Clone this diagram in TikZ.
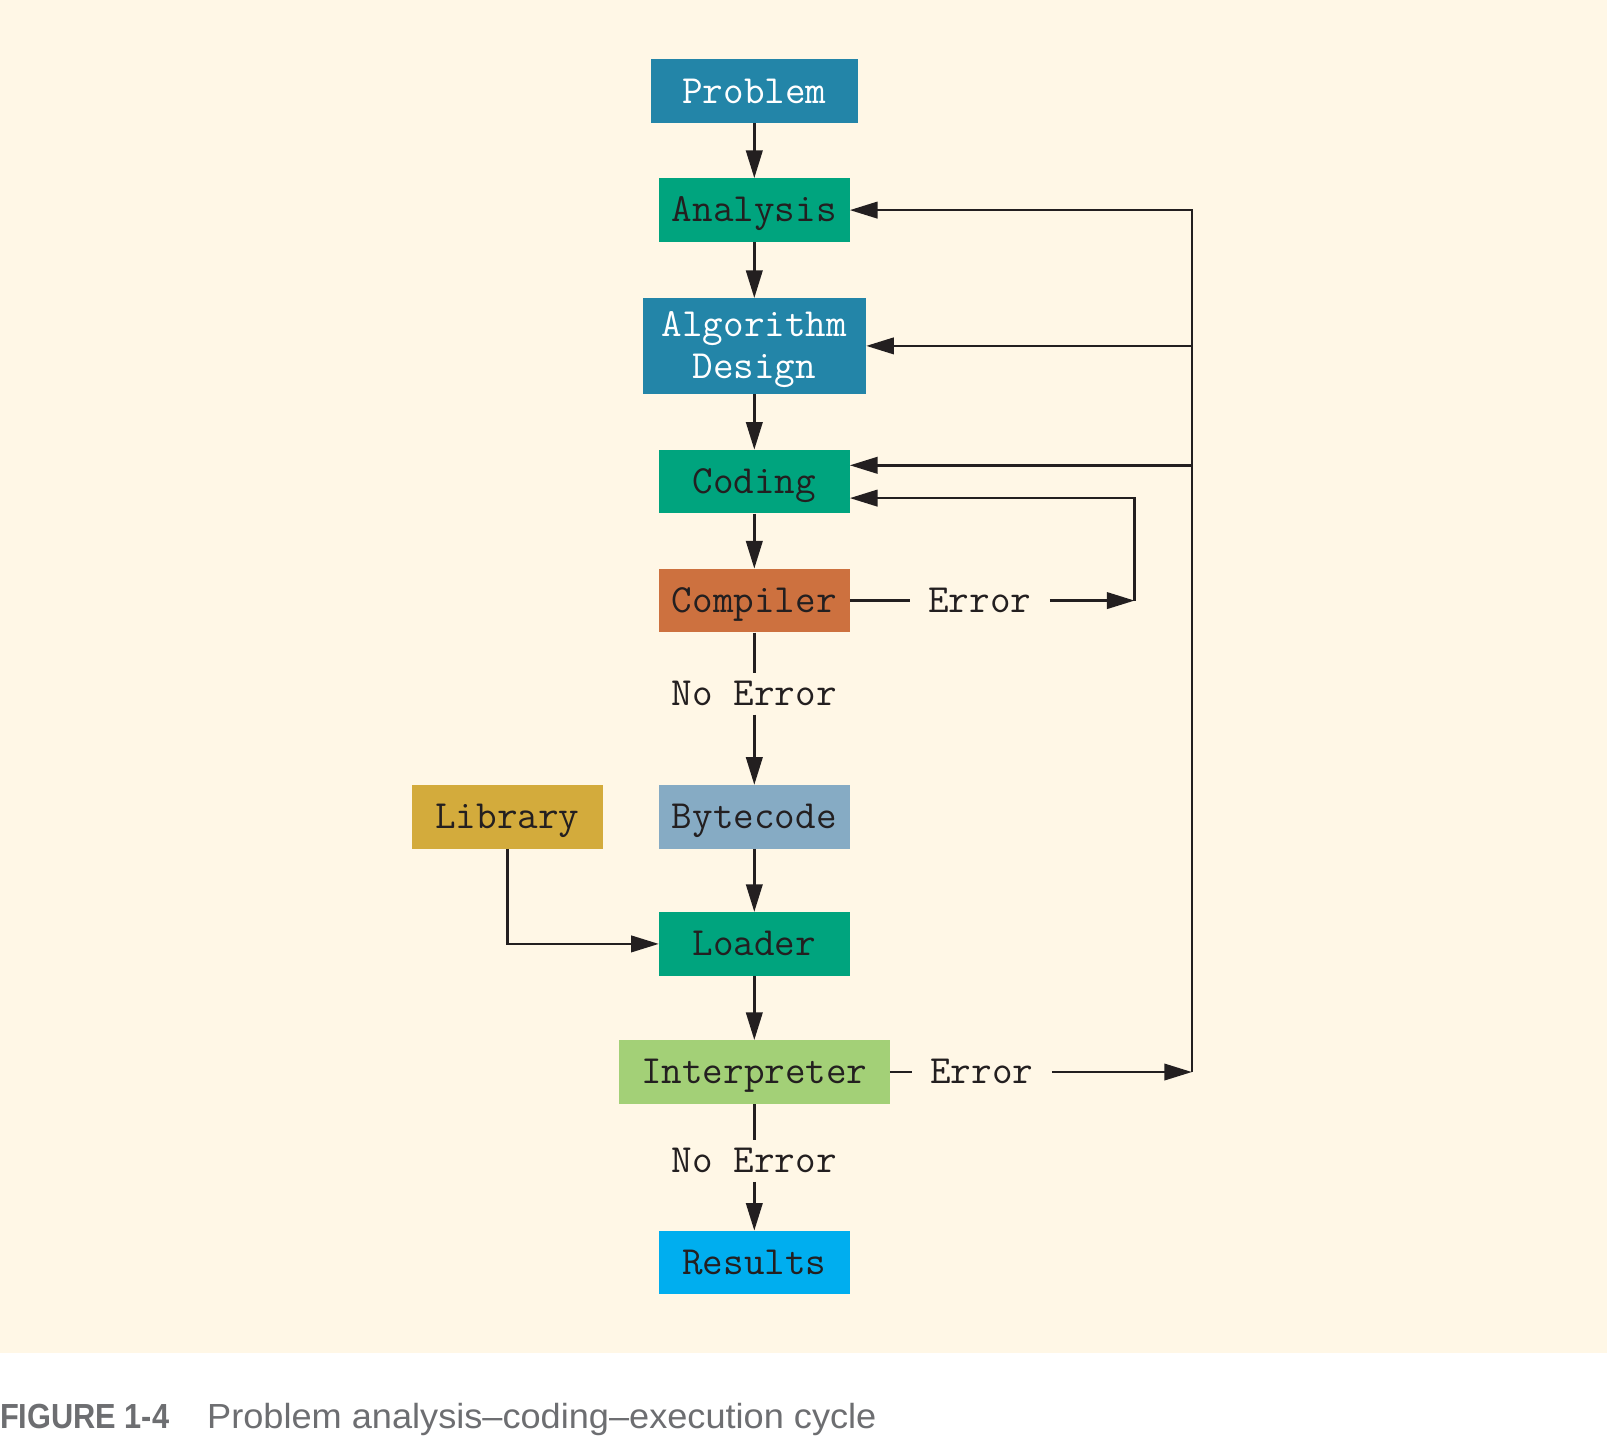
\documentclass[tikz,border=0pt]{standalone}
\usepackage{fontspec}
\setmainfont{Liberation Sans}
\usetikzlibrary{arrows.meta,positioning}
\definecolor{bgcream}{HTML}{FFF7E6}
\definecolor{cblue}{HTML}{2385A8}
\definecolor{cgreen}{HTML}{00A47E}
\definecolor{corange}{HTML}{CD713F}
\definecolor{cgrayblue}{HTML}{86ABC4}
\definecolor{cgold}{HTML}{D3AB3C}
\definecolor{clight}{HTML}{A3D077}
\definecolor{ccyan}{HTML}{00AEEF}
\definecolor{cink}{HTML}{231F20}
\definecolor{capgray}{HTML}{6D6E71}
\newcommand{\monobox}{\ttfamily\fontsize{39}{41}\selectfont}
\tikzset{
  stepbox/.style={rectangle, inner sep=0pt, minimum width=186pt, minimum height=62pt,
    font=\monobox, text=cink, align=center, text height=23pt, text depth=0pt},
  lbl/.style={inner xsep=18pt, inner ysep=0pt, minimum height=40pt,
    font=\monobox, text=cink, text height=23pt, text depth=0pt},
  arr/.style={draw=cink, line width=2.6pt, -{Triangle[length=27pt,width=16pt]}},
  ln/.style={draw=cink, line width=2.6pt},
}
\begin{document}
\begin{tikzpicture}[x=1pt,y=-1pt]
\useasboundingbox (0,0) rectangle (1568,1401);
\fill[bgcream] (0,0) rectangle (1568,1320);
\fill[white] (0,1320) rectangle (1568,1401);

\node[stepbox, fill=cblue, text=white, minimum width=202pt] (prob) at (736,89) {Problem};
\node[stepbox, fill=cgreen] (anal) at (736,205) {Analysis};
\node[stepbox, fill=cblue, text=white, minimum width=218pt, minimum height=93pt,
      text height=64pt, text depth=0pt] (algo) at (736,337.5) {Algorithm\\Design};
\node[stepbox, fill=cgreen] (cod) at (736,470) {Coding};
\node[stepbox, fill=corange] (comp) at (736,586) {Compiler};
\node[lbl] (noerr1) at (736,677) {No Error};
\node[lbl] (err1) at (956,586) {Error};
\node[stepbox, fill=cgrayblue] (byte) at (736,797) {Bytecode};
\node[stepbox, fill=cgold] (lib) at (495,797) {Library};
\node[stepbox, fill=cgreen] (load) at (736,921) {Loader};
\node[stepbox, fill=clight, minimum width=264pt] (interp) at (736,1046) {Interpreter};
\node[lbl] (err2) at (958,1046) {Error};
\node[lbl] (noerr2) at (736,1133) {No Error};
\node[stepbox, fill=ccyan] (res) at (736,1232) {Results};

\coordinate (loopA) at (1107,586);
\coordinate (loopB) at (1163,1046);

\draw[arr] (prob) -- (anal);
\draw[arr] (anal) -- (algo);
\draw[arr] (algo) -- (cod);
\draw[arr] (cod) -- (comp);
\draw[ln] (comp) -- (noerr1);
\draw[arr] (noerr1) -- (byte);
\draw[arr] (byte) -- (load);
\draw[arr] (load) -- (interp);
\draw[ln] (interp) -- (noerr2);
\draw[arr] (noerr2) -- (res);
\draw[arr] (lib.south) |- (load.west);

\draw[ln] (comp.east) -- (err1.west);
\draw[arr] (err1.east) -- (loopA);
\draw[arr] (loopA) |- ([yshift=-16pt]cod.east);

\draw[ln] (interp.east) -- (err2.west);
\draw[arr] (err2.east) -- (loopB);
\draw[arr] (loopB) |- (anal.east);
\draw[arr] (loopB) |- (algo.east);
\draw[arr] (loopB) |- ([yshift=16pt]cod.east);

\node[anchor=base west, inner sep=0pt, text=capgray, font=\fontsize{34}{40}\selectfont\bfseries] (fig) at (0,1394) {\resizebox{165pt}{\height}{FIGURE 1-4}};
\node[anchor=base west, inner sep=0pt, text=capgray, font=\fontsize{34}{40}\selectfont] (cap) at (202,1394) {\resizebox{653pt}{\height}{Problem analysis--coding--execution cycle}};
\end{tikzpicture}
\end{document}
